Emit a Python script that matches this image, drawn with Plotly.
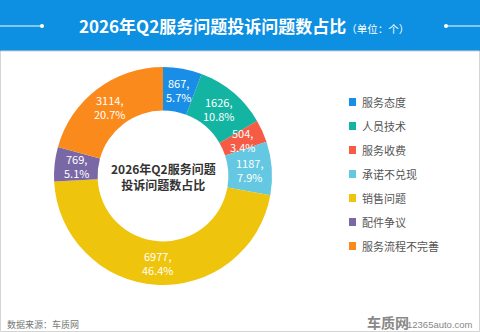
import math
import plotly.graph_objects as go

categories = ["服务态度", "人员技术", "服务收费", "承诺不兑现", "销售问题", "配件争议", "服务流程不完善"]
values = [867, 1626, 504, 1187, 6977, 769, 3114]
pct_labels = ["5.7%", "10.8%", "3.4%", "7.9%", "46.4%", "5.1%", "20.7%"]
colors = ["#1a8ee6", "#14b4a2", "#f65b45", "#64c8e2", "#efc40c", "#7a68a6", "#fb8a1c"]

W, H = 480, 332
FONT = "Noto Sans CJK SC"

def px(x):
    return x / W

def py(y):
    return 1 - y / H

cx, cy, r = 163, 176, 109
hole = 0.6

fig = go.Figure()
fig.add_trace(go.Pie(
    labels=categories,
    values=values,
    textinfo="none",
    marker=dict(colors=colors, line=dict(width=0)),
    hole=hole,
    sort=False,
    direction="clockwise",
    rotation=0,
    domain=dict(x=[px(cx - r), px(cx + r)], y=[py(cy + r), py(cy - r)]),
    showlegend=False,
    hoverinfo="label+value",
))

shapes = []
annotations = []

# slice labels placed at the middle of each ring segment (derived from values)
total = sum(values)
acc = 0
r_mid = r * (1 + hole) / 2
for v, p in zip(values, pct_labels):
    mid = (acc + v / 2) / total * 2 * math.pi
    acc += v
    lx = cx + r_mid * math.sin(mid)
    ly = cy - r_mid * math.cos(mid)
    annotations.append(dict(x=px(lx), y=py(ly), xref="paper", yref="paper", showarrow=False,
                            text=f"{v},<br>{p}", font=dict(color="white", size=11, family=FONT),
                            xanchor="center", yanchor="middle", align="center"))

# header band
shapes.append(dict(type="rect", xref="paper", yref="paper", x0=0, x1=1, y0=py(51), y1=1,
                   fillcolor="#0d8fe2", line=dict(width=0), layer="below"))
shapes.append(dict(type="line", xref="paper", yref="paper", x0=0, x1=px(42), y0=py(26), y1=py(26),
                   line=dict(color="white", width=1)))
shapes.append(dict(type="line", xref="paper", yref="paper", x0=px(446), x1=1, y0=py(26), y1=py(26),
                   line=dict(color="white", width=1)))
for dx in (42, 446):
    shapes.append(dict(type="circle", xref="paper", yref="paper", x0=px(dx - 2), x1=px(dx + 2),
                       y0=py(28), y1=py(24), fillcolor="white", line=dict(width=0)))
# outer border
shapes.append(dict(type="rect", xref="paper", yref="paper", x0=px(0.5), x1=px(W - 0.5), y0=py(H - 0.5), y1=py(51),
                   line=dict(color="#d4d4d4", width=1), fillcolor="rgba(0,0,0,0)"))

annotations.append(dict(x=px(244), y=py(26), xref="paper", yref="paper", showarrow=False,
                        text="<b>2026年Q2服务问题投诉问题数占比</b><span style='font-size:10.5px'>（单位：个）</span>",
                        font=dict(color="white", size=17, family=FONT), xanchor="center", yanchor="middle"))

# center text
annotations.append(dict(x=px(cx), y=py(cy), xref="paper", yref="paper", showarrow=False,
                        text="<b>2026年Q2服务问题<br>投诉问题数占比</b>",
                        font=dict(color="#333333", size=12, family=FONT), xanchor="center", yanchor="middle"))

# legend
for i, (cat, col) in enumerate(zip(categories, colors)):
    yc = 102 + 24 * i
    shapes.append(dict(type="rect", xref="paper", yref="paper", x0=px(349), x1=px(356),
                       y0=py(yc + 4), y1=py(yc - 4), fillcolor=col, line=dict(width=0)))
    annotations.append(dict(x=px(360), y=py(yc), xref="paper", yref="paper", showarrow=False,
                            text=cat, font=dict(color="#555555", size=11, family=FONT),
                            xanchor="left", yanchor="middle"))

# footer
annotations.append(dict(x=px(5), y=py(324), xref="paper", yref="paper", showarrow=False,
                        text="数据来源：车质网", font=dict(color="#777777", size=9, family=FONT),
                        xanchor="left", yanchor="middle"))
annotations.append(dict(x=px(411), y=py(322), xref="paper", yref="paper", showarrow=False,
                        text="<b>车质网</b>", font=dict(color="#888888", size=14, family=FONT),
                        xanchor="right", yanchor="middle"))
annotations.append(dict(x=px(475), y=py(324), xref="paper", yref="paper", showarrow=False,
                        text="12365auto.com", font=dict(color="#888888", size=9.5, family="Liberation Sans"),
                        xanchor="right", yanchor="middle"))

fig.update_layout(
    width=W, height=H,
    margin=dict(l=0, r=0, t=0, b=0),
    paper_bgcolor="white",
    plot_bgcolor="white",
    shapes=shapes,
    annotations=annotations,
    font=dict(family=FONT),
)

fig.write_html("out.html")
